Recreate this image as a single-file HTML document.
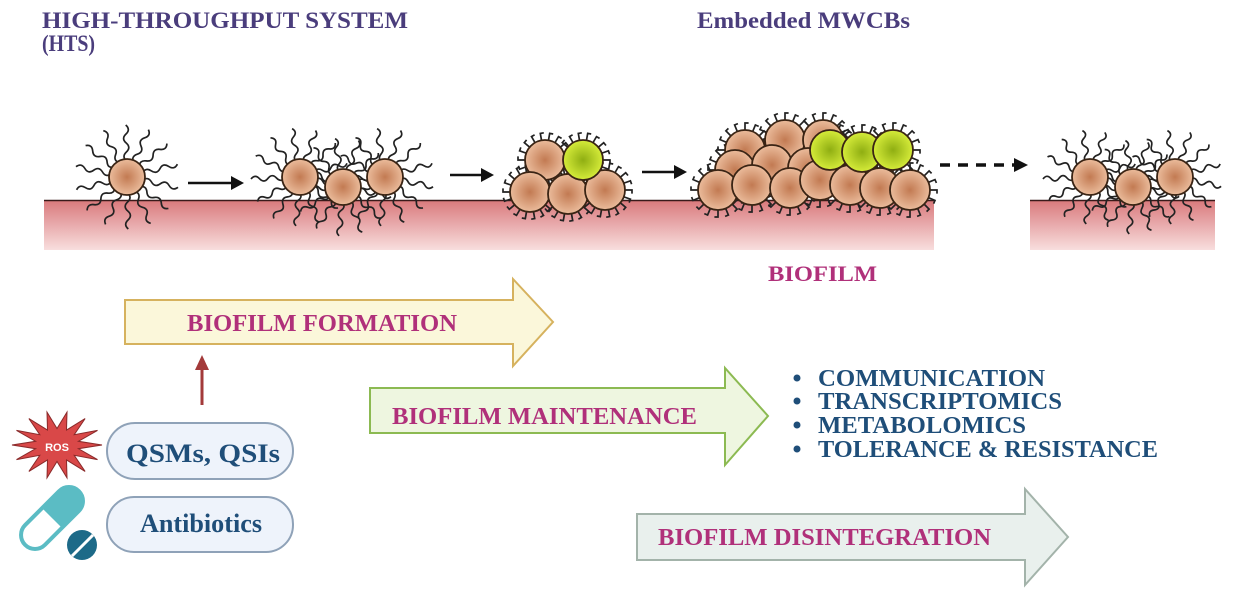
<!DOCTYPE html>
<html><head><meta charset="utf-8"><style>
html,body{margin:0;padding:0;background:#fff;width:1250px;height:600px;overflow:hidden}
svg{display:block}
.t{font-family:"Liberation Serif",serif;font-weight:bold}
</style></head><body>
<svg id="s" width="1250" height="600" viewBox="0 0 1250 600" xmlns="http://www.w3.org/2000/svg">
<defs>
<linearGradient id="surf" x1="0" y1="0" x2="0" y2="1"><stop offset="0" stop-color="#d9797b"/><stop offset="1" stop-color="#f8dede"/></linearGradient>
<radialGradient id="cell"><stop offset="0" stop-color="#c27a52"/><stop offset="1" stop-color="#ebbc9c"/></radialGradient>
<radialGradient id="ycell"><stop offset="0" stop-color="#8fae12"/><stop offset="1" stop-color="#d6ec3a"/></radialGradient>
</defs>
<text class="t" x="42" y="28" font-size="23" fill="#4a3d7c" textLength="366" lengthAdjust="spacingAndGlyphs">HIGH-THROUGHPUT SYSTEM</text>
<text class="t" x="42" y="51" font-size="23" fill="#4a3d7c" textLength="53" lengthAdjust="spacingAndGlyphs">(HTS)</text>
<text class="t" x="697" y="28" font-size="23" fill="#4a3d7c" textLength="213" lengthAdjust="spacingAndGlyphs">Embedded MWCBs</text>
<rect x="44" y="200" width="890" height="50" fill="url(#surf)"/>
<line x1="44" y1="200.5" x2="934" y2="200.5" stroke="#3a1a1a" stroke-width="1.5"/>
<rect x="1030" y="200" width="185" height="50" fill="url(#surf)"/>
<line x1="1030" y1="200.5" x2="1215" y2="200.5" stroke="#3a1a1a" stroke-width="1.5"/>
<g id="hairs" stroke="#222" stroke-width="1.7" fill="none"></g>
<g id="hooks" stroke="#222" stroke-width="1.7" fill="none"></g>
<g id="cells" stroke="#3a2414" stroke-width="1.8"></g>
<g stroke="#111" stroke-width="2.5" fill="#111">
<line x1="188" y1="183" x2="233" y2="183"/><polygon points="231,176 244,183 231,190" stroke="none"/>
<line x1="450" y1="175" x2="483" y2="175"/><polygon points="481,168 494,175 481,182" stroke="none"/>
<line x1="642" y1="172" x2="676" y2="172"/><polygon points="674,165 687,172 674,179" stroke="none"/>
<line x1="940" y1="165" x2="1016" y2="165" stroke-dasharray="10,8" stroke-width="3.5"/><polygon points="1014,158 1028,165 1014,172" stroke="none"/>
</g>
<text class="t" x="768" y="281" font-size="22" fill="#b0307a" textLength="109" lengthAdjust="spacingAndGlyphs">BIOFILM</text>
<polygon points="125,300 513,300 513,279 553,322 513,366 513,344 125,344" fill="#fbf7da" stroke="#d6b25e" stroke-width="2"/>
<text class="t" x="187" y="331" font-size="24" fill="#b0307a" textLength="270" lengthAdjust="spacingAndGlyphs">BIOFILM FORMATION</text>
<polygon points="370,388 725,388 725,368 768,416 725,465 725,433 370,433" fill="#eef6e0" stroke="#8cba52" stroke-width="2"/>
<text class="t" x="392" y="424" font-size="24" fill="#b0307a" textLength="305" lengthAdjust="spacingAndGlyphs">BIOFILM MAINTENANCE</text>
<polygon points="637,514 1025,514 1025,489 1068,537 1025,585 1025,560 637,560" fill="#e9f0ed" stroke="#a3b3aa" stroke-width="2"/>
<text class="t" x="658" y="545" font-size="24" fill="#b0307a" textLength="333" lengthAdjust="spacingAndGlyphs">BIOFILM DISINTEGRATION</text>
<g class="t" font-size="24" fill="#1f4e79">
<text x="818" y="386" textLength="227" lengthAdjust="spacingAndGlyphs">COMMUNICATION</text>
<text x="818" y="409" textLength="244" lengthAdjust="spacingAndGlyphs">TRANSCRIPTOMICS</text>
<text x="818" y="433" textLength="208" lengthAdjust="spacingAndGlyphs">METABOLOMICS</text>
<text x="818" y="457" textLength="340" lengthAdjust="spacingAndGlyphs">TOLERANCE &amp; RESISTANCE</text>
</g>
<g fill="#1f4e79"><circle cx="797" cy="378" r="3.5"/><circle cx="797" cy="401" r="3.5"/><circle cx="797" cy="425" r="3.5"/><circle cx="797" cy="449" r="3.5"/></g>
<line x1="202" y1="405" x2="202" y2="368" stroke="#a33a3a" stroke-width="3"/>
<polygon points="195,370 202,355 209,370" fill="#a33a3a"/>
<rect x="107" y="423" width="186" height="56" rx="28" fill="#eef3fb" stroke="#8fa2b8" stroke-width="2"/>
<text class="t" x="126" y="462" font-size="26" fill="#1f4e79" textLength="154" lengthAdjust="spacingAndGlyphs">QSMs, QSIs</text>
<rect x="107" y="497" width="186" height="55" rx="27" fill="#eef3fb" stroke="#8fa2b8" stroke-width="2"/>
<text class="t" x="140" y="532" font-size="26" fill="#1f4e79" textLength="122" lengthAdjust="spacingAndGlyphs">Antibiotics</text>
<polygon id="star" fill="#d94848" stroke="#8a2a2a" stroke-width="1"/>
<text x="57" y="451" font-family="Liberation Sans,sans-serif" font-weight="bold" font-size="11" fill="#fff" text-anchor="middle">ROS</text>
<g transform="translate(52,518) rotate(-45)">
<rect x="-38" y="-14" width="76" height="28" rx="14" fill="#fff" stroke="#5bbcc4" stroke-width="4"/>
<path d="M0,-14 H24 A14,14 0 0 1 24,14 H0 Z" fill="#5bbcc4"/>
</g>
<circle cx="82" cy="545" r="15" fill="#1d6a88"/>
<line x1="72" y1="556" x2="93" y2="535" stroke="#fff" stroke-width="3"/>
</svg>
<script>
var NS="http://www.w3.org/2000/svg";
function el(p,t,a){var e=document.createElementNS(NS,t);for(var k in a)e.setAttribute(k,a[k]);p.appendChild(e);return e;}
var H=document.getElementById('hairs'),C=document.getElementById('cells'),K=document.getElementById('hooks');
function wavy(cx,cy,r,ang,len){var n=4,s=len/n;var ux=Math.cos(ang),uy=Math.sin(ang),px=-uy,py=ux;
var d="M"+(cx+ux*r).toFixed(1)+","+(cy+uy*r).toFixed(1);
for(var i=0;i<n;i++){var L0=r+i*s,w=(i%2?1:-1)*5;var qx=cx+ux*(L0+s/2)+px*w,qy=cy+uy*(L0+s/2)+py*w,ex=cx+ux*(L0+s),ey=cy+uy*(L0+s);
d+="Q"+qx.toFixed(1)+","+qy.toFixed(1)+" "+ex.toFixed(1)+","+ey.toFixed(1);}
el(H,'path',{d:d});}
function hairy(cx,cy,r,n,len){for(var i=0;i<n;i++){wavy(cx,cy,r-2,i*2*Math.PI/n+0.2,len);}}
function cell(cx,cy,r,y){el(C,'circle',{cx:cx,cy:cy,r:r,fill:y?'url(#ycell)':'url(#cell)'});}
function hooks(cx,cy,r,n){for(var i=0;i<n;i++){var a=i*2*Math.PI/n,x=cx+Math.cos(a)*r,y=cy+Math.sin(a)*r;
var ox=Math.cos(a)*8,oy=Math.sin(a)*8;el(K,'path',{d:"M"+x.toFixed(1)+","+y.toFixed(1)+"l"+ox.toFixed(1)+","+oy.toFixed(1)+"l"+(-oy*0.45).toFixed(1)+","+(ox*0.45).toFixed(1)});}}
hairy(127,177,18,14,36);cell(127,177,18);
[[300,177],[343,187],[385,177]].forEach(function(p){hairy(p[0],p[1],17,13,34);});
cell(300,177,18);cell(343,187,18);cell(385,177,18);
[[1090,177],[1133,187],[1175,177]].forEach(function(p){hairy(p[0],p[1],17,13,32);});
cell(1090,177,18);cell(1133,187,18);cell(1175,177,18);
var c3=[[545,160,0],[530,192,0],[568,194,0],[605,190,0],[583,160,1]];
c3.forEach(function(p){hooks(p[0],p[1],19,18);});
c3.forEach(function(p){cell(p[0],p[1],20,p[2]);});
var c4=[[745,150,0],[785,140,0],[823,140,0],[735,170,0],[772,165,0],[808,168,0],[718,190,0],[752,185,0],[790,188,0],[820,180,0],[850,185,0],[880,188,0],[910,190,0],[830,150,1],[862,152,1],[893,150,1]];
c4.forEach(function(p){hooks(p[0],p[1],19,16);});
c4.forEach(function(p){cell(p[0],p[1],20,p[2]);});
var pts=[],cx=57,cy=445,n=14;for(var i=0;i<2*n;i++){var r=i%2?22:45,a=i*Math.PI/n;pts.push((cx+Math.cos(a)*r).toFixed(1)+","+(cy+Math.sin(a)*r*0.75).toFixed(1));}
document.getElementById('star').setAttribute('points',pts.join(' '));
</script>
</body></html>
